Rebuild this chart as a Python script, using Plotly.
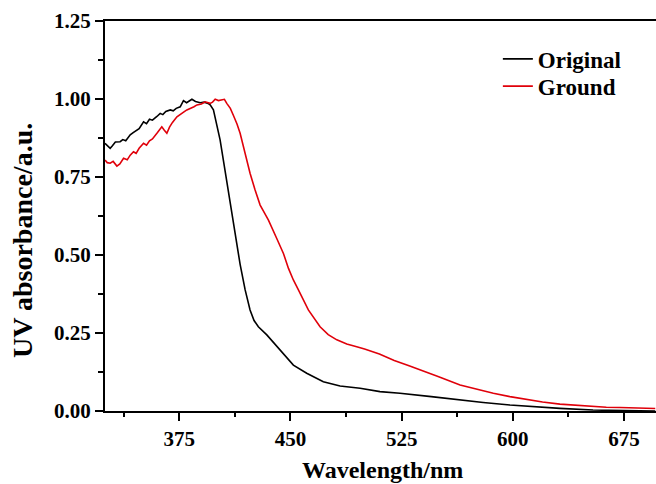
import plotly.graph_objects as go

# Wavelength (nm) and absorbance for the two spectra
wl_original = [325, 326.5, 328.5, 330, 332, 335.2, 337, 339, 342, 344, 346, 348, 351, 353, 355,
               357, 360, 362.2, 364, 366, 369, 371, 373, 375.7, 377.9, 380, 383.6, 386, 389.2,
               392, 394.5, 395.9, 398.1, 399.3, 401.5, 402.6, 405.5, 409, 413, 416.1, 419.5,
               422.8, 425.5, 428.4, 434.1, 443.1, 452, 461, 472.2, 483.5, 497, 510.4, 523.9,
               545, 564.4, 580, 598, 615, 631.7, 654, 672, 696]
ab_original = [0.858, 0.852, 0.842, 0.850, 0.862, 0.863, 0.870, 0.866, 0.885, 0.892, 0.898, 0.905,
               0.927, 0.921, 0.935, 0.932, 0.944, 0.954, 0.950, 0.960, 0.965, 0.962, 0.970,
               0.975, 0.995, 0.988, 0.999, 0.992, 0.988, 0.990, 0.986, 0.981, 0.965, 0.940,
               0.895, 0.869, 0.783, 0.679, 0.560, 0.470, 0.388, 0.324, 0.290, 0.270, 0.244,
               0.196, 0.147, 0.121, 0.094, 0.080, 0.073, 0.062, 0.057, 0.046, 0.035, 0.027,
               0.019, 0.013, 0.0085, 0.003, 0.001, 0.0]

wl_ground = [325, 326.5, 328.5, 330.5, 333, 335, 337.5, 340, 342, 344.2, 346, 348, 351, 353, 355,
             357, 360, 361.5, 363.3, 365, 366.7, 368.5, 370.5, 373.5, 376, 378, 380.2, 383, 385,
             387, 390, 392.5, 394, 395.9, 397.5, 399.3, 401.5, 403.8, 405.5, 407.1, 409.5,
             411.6, 414, 416.1, 419.5, 422.8, 426.2, 428.4, 429.6, 432.5, 435.2, 440.8, 445.3,
             448.7, 452, 455.4, 462.1, 470, 475.5, 481.3, 488, 494.7, 500, 510, 520, 530,
             540, 550, 564.4, 575, 586.8, 598, 609.3, 620, 631.7, 643, 654.2, 663, 672.2,
             683, 694.4, 696]
ab_ground = [0.804, 0.796, 0.794, 0.800, 0.785, 0.792, 0.810, 0.805, 0.820, 0.831, 0.826, 0.842,
             0.858, 0.852, 0.866, 0.872, 0.890, 0.900, 0.911, 0.900, 0.890, 0.910, 0.925,
             0.943, 0.950, 0.958, 0.965, 0.970, 0.975, 0.981, 0.984, 0.991, 0.988, 0.986,
             0.990, 0.999, 0.995, 0.997, 0.999, 0.986, 0.970, 0.947, 0.920, 0.890, 0.826,
             0.762, 0.708, 0.676, 0.660, 0.635, 0.612, 0.553, 0.505, 0.457, 0.420, 0.388,
             0.324, 0.270, 0.245, 0.228, 0.215, 0.206, 0.199, 0.183, 0.162, 0.145, 0.128,
             0.110, 0.083, 0.070, 0.057, 0.046, 0.037, 0.029, 0.022, 0.018, 0.014, 0.012,
             0.011, 0.009, 0.008, 0.008]

series_names = ["Original", "Ground"]
series_colors = ["#000000", "#e0000a"]
series_legends = ["legend", "legend2"]

x_ticks = [375, 450, 525, 600, 675]
y_ticks = [0.0, 0.25, 0.5, 0.75, 1.0, 1.25]
y_tick_labels = ["0.00", "0.25", "0.50", "0.75", "1.00", "1.25"]

FONT = "Liberation Serif"
legend_font = dict(family=FONT, size=23, color="black", weight="bold")

fig = go.Figure()
for name, xs, ys, col, lg in zip(series_names, [wl_original, wl_ground],
                                 [ab_original, ab_ground], series_colors, series_legends):
    fig.add_trace(go.Scatter(x=xs, y=ys, mode="lines", name=name, legend=lg,
                             line=dict(color=col, width=1.6)))

fig.update_layout(
    width=656, height=484,
    margin=dict(l=105, r=0, t=21, b=73),
    paper_bgcolor="white", plot_bgcolor="white",
    showlegend=True,
    legend=dict(x=0.713, y=0.958, xanchor="left", yanchor="top",
                bgcolor="rgba(0,0,0,0)", font=legend_font, itemwidth=30),
    legend2=dict(x=0.713, y=0.888, xanchor="left", yanchor="top",
                 bgcolor="rgba(0,0,0,0)", font=legend_font, itemwidth=30),
    font=dict(family=FONT, color="black"),
)

fig.update_xaxes(
    range=[325, 696.5], showgrid=False, zeroline=False,
    showline=True, linecolor="black", linewidth=2, mirror=True,
    tickmode="array", tickvals=x_ticks, ticktext=[str(v) for v in x_ticks],
    ticks="outside", ticklen=8, tickwidth=1.5, tickcolor="black",
    tickfont=dict(family=FONT, size=21, color="black", weight="bold"),
    minor=dict(ticks="outside", ticklen=4, tickwidth=1.5, tickcolor="black",
               tick0=337.5, dtick=75, showgrid=False),
)
fig.update_yaxes(
    range=[0, 1.25], showgrid=False, zeroline=False,
    showline=True, linecolor="black", linewidth=2,
    tickmode="array", tickvals=y_ticks, ticktext=y_tick_labels,
    ticks="outside", ticklen=8, tickwidth=1.5, tickcolor="black",
    tickfont=dict(family=FONT, size=21, color="black", weight="bold"),
    minor=dict(ticks="outside", ticklen=5, tickwidth=1.5, tickcolor="black",
               tick0=0.125, dtick=0.25, showgrid=False),
)

fig.add_annotation(text="Wavelength/nm", xref="paper", yref="paper",
                   x=0.5045, y=-0.151, xanchor="center", yanchor="middle",
                   showarrow=False,
                   font=dict(family=FONT, size=24, color="black", weight="bold"))
fig.add_annotation(text="UV absorbance/a.u.", xref="paper", yref="paper",
                   x=-0.1488, y=0.436, xanchor="center", yanchor="middle",
                   textangle=-90, showarrow=False,
                   font=dict(family=FONT, size=28, color="black", weight="bold"))

fig.write_html("out.html")
